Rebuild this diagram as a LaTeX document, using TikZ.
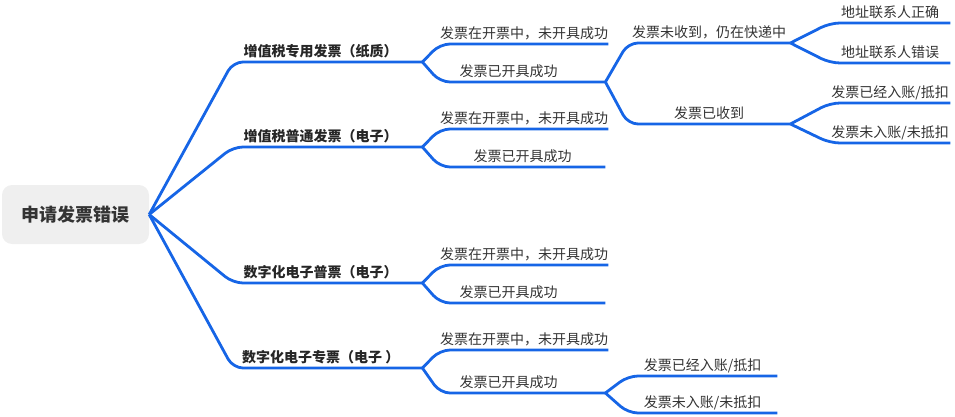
\documentclass[tikz,border=0pt]{standalone}
\usepackage{fontspec}
\setmainfont{Noto Sans CJK SC}
\usepackage{tikz}

\definecolor{mapblue}{RGB}{22,101,230}
\definecolor{maptext}{RGB}{51,51,51}
\definecolor{rootfill}{RGB}{239,239,239}

\begin{document}
\begin{tikzpicture}[x=1pt,y=-1pt,
  link/.style={mapblue,line width=2.8pt,rounded corners=10pt},
  topic/.style={anchor=south west,inner xsep=0pt,inner ysep=5.5pt,text height=11pt,text depth=0pt,
    font=\fontsize{14}{16}\selectfont,text=maptext},
  main/.style={topic,font=\bfseries\fontsize{14}{16}\selectfont,text=black!85},
  lshift/.style={execute at end node={\hspace*{#1pt}}}]
\useasboundingbox (0,0) rectangle (955,417);
% root
\node[fill=rootfill,rounded corners=10pt,minimum width=147pt,minimum height=59pt,
  font=\bfseries\fontsize{18}{20}\selectfont,text=black!80] (root) at (75.5,214.5) {申请发票错误};
% main topics
\node[main,minimum width=189pt,lshift=14] (paper) at (233,62) {增值税专用发票（纸质）};
\node[main,minimum width=189pt,lshift=14] (normal) at (233,147) {增值税普通发票（电子）};
\node[main,minimum width=189pt,lshift=14] (digNormal) at (233,283) {数字化电子普票（电子）};
\node[main,minimum width=189pt,lshift=14] (digSpecial) at (233,368) {数字化电子专票（电子 ）};
% second level
\node[topic,minimum width=165pt] (paperIssuing) at (440,44) {发票在开票中，未开具成功};
\node[topic,minimum width=165pt,lshift=28] (paperIssued) at (440,82) {发票已开具成功};
\node[topic,minimum width=165pt] (normalIssuing) at (440,129) {发票在开票中，未开具成功};
\node[topic,minimum width=165pt] (normalIssued) at (440,167) {发票已开具成功};
\node[topic,minimum width=165pt] (digNormalIssuing) at (440,265) {发票在开票中，未开具成功};
\node[topic,minimum width=165pt,lshift=28] (digNormalIssued) at (440,303) {发票已开具成功};
\node[topic,minimum width=165pt] (digSpecialIssuing) at (440,350) {发票在开票中，未开具成功};
\node[topic,minimum width=165pt,lshift=28] (digSpecialIssued) at (440,393) {发票已开具成功};
% third level
\node[topic,minimum width=162pt] (inTransit) at (628,43) {发票未收到，仍在快递中};
\node[topic,minimum width=162pt] (received) at (628,124) {发票已收到};
\node[topic,minimum width=149pt] (digBooked) at (628,376) {发票已经入账/抵扣};
\node[topic,minimum width=149pt] (digNotBooked) at (628,413) {发票未入账/未抵扣};
% fourth level
\node[topic,minimum width=120pt] (addrRight) at (830,23) {地址联系人正确};
\node[topic,minimum width=120pt] (addrWrong) at (830,63) {地址联系人错误};
\node[topic,minimum width=120pt] (booked) at (830,103) {发票已经入账/抵扣};
\node[topic,minimum width=120pt] (notBooked) at (830,143) {发票未入账/未抵扣};

% connectors
\foreach \t in {paper,normal,digNormal,digSpecial}
  \draw[link] (root.east) -- (\t.south west) -- (\t.south east);
\foreach \p/\t in {paper/paperIssuing,paper/paperIssued,normal/normalIssuing,normal/normalIssued,
    digNormal/digNormalIssuing,digNormal/digNormalIssued,digSpecial/digSpecialIssuing,digSpecial/digSpecialIssued,
    paperIssued/inTransit,paperIssued/received,digSpecialIssued/digBooked,digSpecialIssued/digNotBooked,
    inTransit/addrRight,inTransit/addrWrong,received/booked,received/notBooked}
  \draw[link] (\p.south east) -- (\t.south west) -- (\t.south east);
\end{tikzpicture}
\end{document}
